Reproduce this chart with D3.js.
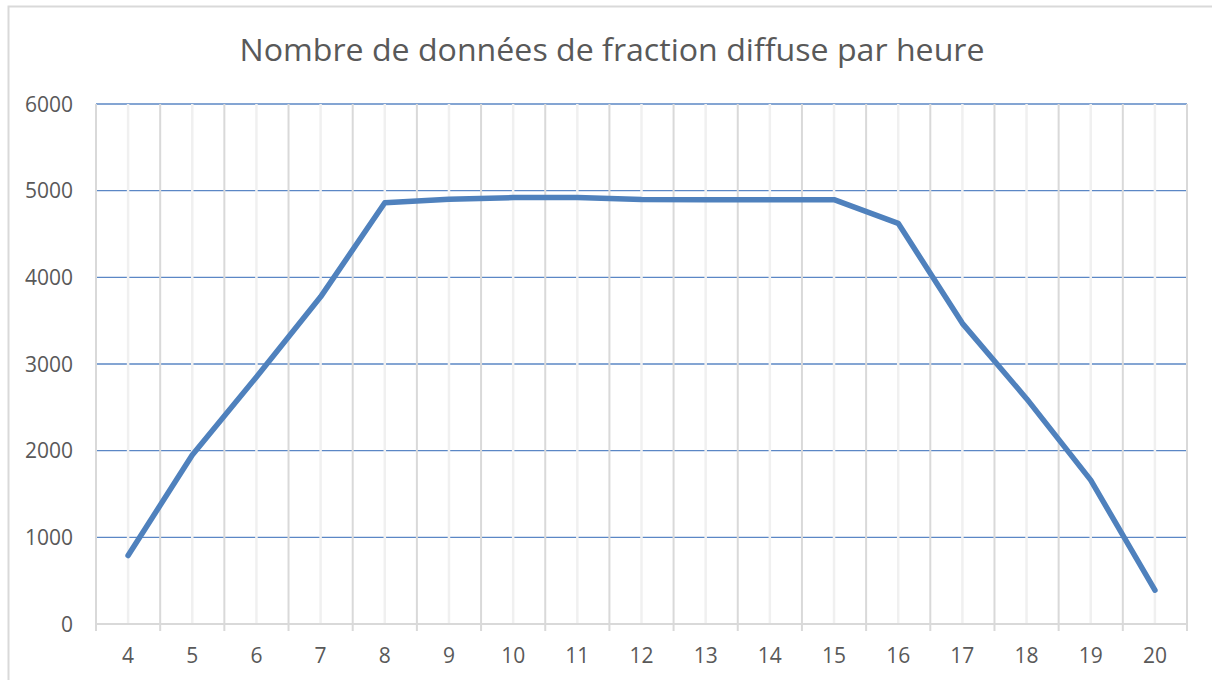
<!DOCTYPE html>
<html>
<head>
<meta charset="utf-8">
<script src="https://cdn.jsdelivr.net/npm/d3@7"></script>
<style>
  body { margin: 0; background: #fff; }
  text { font-family: "Open Sans", "Noto Sans", sans-serif; fill: #595959; }
</style>
</head>
<body>
<div id="chart"></div>
<script>
// data
const hours = [4, 5, 6, 7, 8, 9, 10, 11, 12, 13, 14, 15, 16, 17, 18, 19, 20];
const counts = [790, 1950, 2850, 3775, 4860, 4900, 4920, 4920, 4897, 4896, 4896, 4896, 4623, 3469, 2600, 1660, 390];
const yTicks = [0, 1000, 2000, 3000, 4000, 5000, 6000];
const chartTitle = "Nombre de données de fraction diffuse par heure";

function drawChart() {
    const width = 1212, height = 680;
    const margin = {left: 96, right: 25, top: 104, bottom: 56};

    const svg = d3.select("#chart").append("svg")
        .attr("width", width)
        .attr("height", height);

    // chart border
    svg.append("rect")
        .attr("x", 8.5).attr("y", 6.5)
        .attr("width", width).attr("height", height)
        .attr("fill", "none")
        .attr("stroke", "#d9d9d9")
        .attr("stroke-width", 2);

    const x = d3.scaleBand()
        .domain(hours)
        .range([margin.left, width - margin.right])
        .padding(0);

    const y = d3.scaleLinear()
        .domain([0, 6000])
        .range([height - margin.bottom, margin.top]);

    // horizontal gridlines (blue)
    svg.append("g")
        .selectAll("line")
        .data(yTicks.filter(d => d > 0))
        .join("line")
        .attr("x1", x.range()[0]).attr("x2", x.range()[1])
        .attr("y1", d => y(d)).attr("y2", d => y(d))
        .attr("stroke", "#5b87c5")
        .attr("stroke-width", 1.4);

    // minor vertical gridlines at category centres
    svg.append("g")
        .selectAll("line")
        .data(hours)
        .join("line")
        .attr("x1", d => x(d) + x.bandwidth() / 2)
        .attr("x2", d => x(d) + x.bandwidth() / 2)
        .attr("y1", y(6000)).attr("y2", y(0))
        .attr("stroke", "#f0f0f0")
        .attr("stroke-width", 2.5);

    // major vertical gridlines at category boundaries
    const bounds = hours.map(d => x(d)).concat([x.range()[1]]);
    svg.append("g")
        .selectAll("line")
        .data(bounds)
        .join("line")
        .attr("x1", d => d).attr("x2", d => d)
        .attr("y1", y(6000)).attr("y2", y(0) + 7)
        .attr("stroke", "#d9d9d9")
        .attr("stroke-width", 2);

    // x axis line
    svg.append("line")
        .attr("x1", x.range()[0]).attr("x2", x.range()[1])
        .attr("y1", y(0)).attr("y2", y(0))
        .attr("stroke", "#d9d9d9")
        .attr("stroke-width", 2);

    // y labels
    svg.append("g")
        .selectAll("text")
        .data(yTicks)
        .join("text")
        .attr("x", 73)
        .attr("y", d => y(d))
        .attr("dy", "0.36em")
        .attr("text-anchor", "end")
        .style("font-size", "21px")
        .text(d => d);

    // x labels
    svg.append("g")
        .selectAll("text")
        .data(hours)
        .join("text")
        .attr("x", d => x(d) + x.bandwidth() / 2)
        .attr("y", 663)
        .attr("text-anchor", "middle")
        .style("font-size", "21px")
        .text(d => d);

    // series line
    const line = d3.line()
        .x((d, i) => x(hours[i]) + x.bandwidth() / 2)
        .y(d => y(d));

    svg.append("path")
        .datum(counts)
        .attr("d", line)
        .attr("fill", "none")
        .attr("stroke", "#4f81bd")
        .attr("stroke-width", 5.5)
        .attr("stroke-linejoin", "round")
        .attr("stroke-linecap", "round");

    // title
    svg.append("text")
        .attr("x", 612)
        .attr("y", 61)
        .attr("text-anchor", "middle")
        .style("font-size", "31px")
        .attr("textLength", 745)
        .attr("lengthAdjust", "spacingAndGlyphs")
        .text(chartTitle);
}

drawChart();
</script>
</body>
</html>
